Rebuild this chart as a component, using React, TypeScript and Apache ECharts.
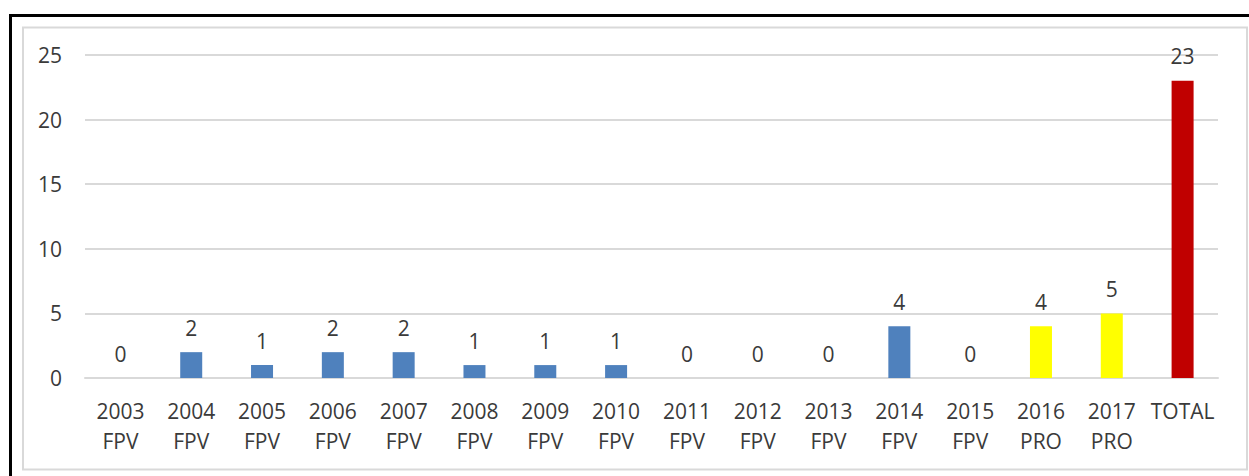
import React, { useEffect, useRef } from "react";
import * as echarts from "echarts";

const categories = [
  "2003\nFPV", "2004\nFPV", "2005\nFPV", "2006\nFPV", "2007\nFPV", "2008\nFPV",
  "2009\nFPV", "2010\nFPV", "2011\nFPV", "2012\nFPV", "2013\nFPV", "2014\nFPV",
  "2015\nFPV", "2016\nPRO", "2017\nPRO", "TOTAL",
];
const values = [0, 2, 1, 2, 2, 1, 1, 1, 0, 0, 0, 4, 0, 4, 5, 23];
const barColors = [
  "#4F81BD", "#4F81BD", "#4F81BD", "#4F81BD", "#4F81BD", "#4F81BD",
  "#4F81BD", "#4F81BD", "#4F81BD", "#4F81BD", "#4F81BD", "#4F81BD",
  "#4F81BD", "#FFFF00", "#FFFF00", "#C00000",
];
const yTicks = { min: 0, max: 25, interval: 5 };

const FONT = "'Open Sans', 'Liberation Sans', sans-serif";
const TEXT = "#3a3a3a";

export default function App() {
  const ref = useRef<HTMLDivElement>(null);
  useEffect(() => {
    if (!ref.current) return;
    const chart = echarts.init(ref.current, undefined, { renderer: "svg" });
    chart.setOption({
      animation: false,
      backgroundColor: "#ffffff",
      textStyle: { fontFamily: FONT },
      graphic: [
        { type: "rect", shape: { x: 9, y: 14, width: 1240, height: 3 }, style: { fill: "#000" }, silent: true },
        { type: "rect", shape: { x: 9, y: 14, width: 3, height: 462 }, style: { fill: "#000" }, silent: true },
        {
          type: "rect",
          shape: { x: 23, y: 27.5, width: 1224, height: 442 },
          style: { fill: "none", stroke: "#D9D9D9", lineWidth: 2 },
          silent: true,
        },
      ],
      grid: { left: 85, right: 31, top: 55, bottom: 98, containLabel: false },
      xAxis: {
        type: "category",
        data: categories,
        axisTick: { show: false },
        axisLine: { show: true, lineStyle: { color: "#D9D9D9", width: 2 } },
        axisLabel: {
          interval: 0,
          margin: 18,
          fontSize: 21,
          lineHeight: 30,
          color: TEXT,
          fontFamily: FONT,
        },
      },
      yAxis: {
        type: "value",
        min: yTicks.min,
        max: yTicks.max,
        interval: yTicks.interval,
        axisLine: { show: false },
        axisTick: { show: false },
        splitLine: { lineStyle: { color: "#D9D9D9", width: 2 } },
        axisLabel: { margin: 23, fontSize: 21, color: TEXT, fontFamily: FONT },
      },
      series: [
        {
          type: "bar",
          barWidth: 22,
          data: values.map((v, i) => ({ value: v, itemStyle: { color: barColors[i] } })),
          label: {
            show: true,
            position: "top",
            distance: 14,
            fontSize: 21,
            color: TEXT,
            fontFamily: FONT,
          },
        },
      ],
    });
    return () => chart.dispose();
  }, []);
  return (
    <div
      ref={ref}
      style={{ position: "absolute", left: 0, top: 0, width: 1249, height: 476 }}
    />
  );
}
